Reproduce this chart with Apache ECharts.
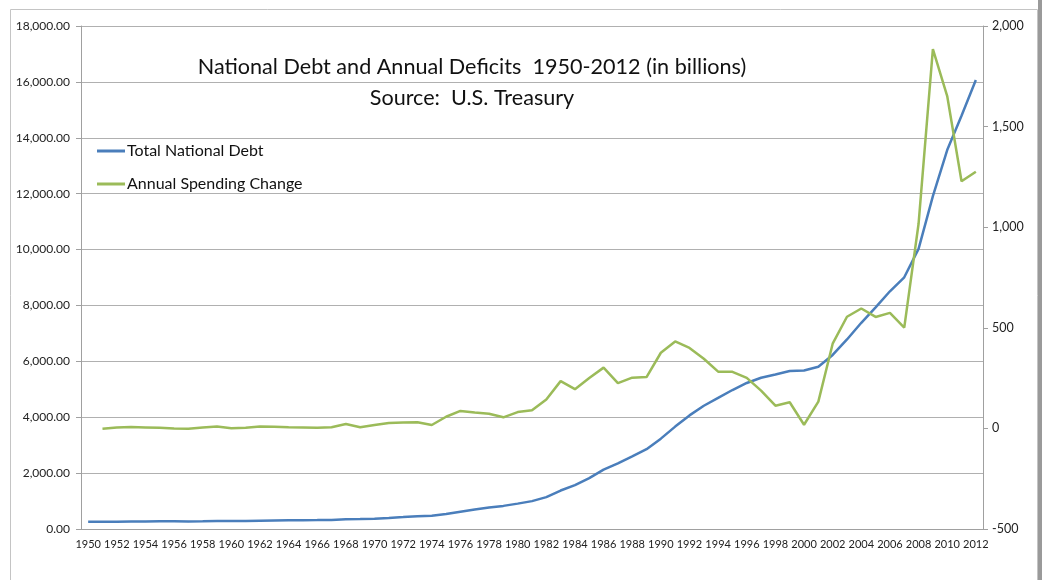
<!DOCTYPE html>
<html>
<head>
<meta charset="utf-8">
<script src="https://cdn.jsdelivr.net/npm/echarts@6/dist/echarts.min.js"></script>
<style>
  html, body { margin: 0; padding: 0; background: #fff; }
  #main { width: 1042px; height: 580px; }
</style>
</head>
<body>
<div id="main"></div>
<script>
// years 1950-2012
const years = [];
for (let y = 1950; y <= 2012; y++) years.push(String(y));

// total national debt, billions (left axis)
const debt = [
  257, 255, 259, 266, 271, 274, 273, 271, 276, 285,
  286, 289, 298, 306, 312, 317, 320, 326, 348, 354,
  371, 398, 427, 458, 475, 533, 620, 699, 772, 827,
  908, 998, 1142, 1377, 1572, 1823, 2125, 2350, 2602, 2857,
  3233, 3665, 4065, 4411, 4693, 4974, 5225, 5413, 5526, 5656,
  5674, 5807, 6228, 6783, 7379, 7933, 8507, 9008, 10025, 11910,
  13562, 14790, 16066
];

// annual spending change, billions (right axis), starts 1951
const change = [
  null, -2, 4, 7, 5, 3, -1, -2, 5, 9,
  1, 3, 9, 8, 6, 5, 3, 6, 22, 6,
  17, 27, 29, 31, 17, 58, 87, 79, 73, 55,
  81, 90, 144, 235, 195, 251, 302, 225, 252, 255,
  376, 432, 400, 346, 282, 281, 251, 188, 113, 130,
  18, 133, 421, 555, 596, 554, 574, 501, 1017, 1885,
  1652, 1228, 1276
];

const font = 'Lato';
const chart = echarts.init(document.getElementById('main'));

chart.setOption({
  animation: false,
  textStyle: { fontFamily: font },
  title: {
    text: 'National Debt and Annual Deficits  1950-2012 (in billions)\nSource:  U.S. Treasury',
    left: 467,
    top: 47,
    textAlign: 'center',
    textStyle: { fontSize: 21.6, fontWeight: 'normal', color: '#111', lineHeight: 31, fontFamily: font }
  },
  legend: {
    orient: 'vertical',
    left: 97,
    top: 143,
    padding: 0,
    icon: 'rect',
    itemWidth: 28,
    itemHeight: 3,
    itemGap: 17,
    textStyle: { fontSize: 16, color: '#111', padding: [0, 0, 0, -3] },
    data: ['Total National Debt', 'Annual Spending Change']
  },
  grid: { left: 81, right: 59, top: 26, bottom: 51 },
  xAxis: {
    type: 'category',
    data: years,
    boundaryGap: true,
    axisLine: { lineStyle: { color: '#a0a0a0' } },
    axisTick: { interval: 0, length: 5, lineStyle: { color: '#a0a0a0' } },
    axisLabel: { interval: 1, fontSize: 11, color: '#222', margin: 10 }
  },
  yAxis: [
    {
      type: 'value',
      min: 0, max: 18000, interval: 2000,
      axisLine: { show: true, lineStyle: { color: '#a0a0a0' } },
      axisTick: { show: true, length: 5, lineStyle: { color: '#a0a0a0' } },
      splitLine: { lineStyle: { color: '#b0b0b0' } },
      axisLabel: {
        fontSize: 12, color: '#222', margin: 11,
        formatter: v => v.toLocaleString('en-US', { minimumFractionDigits: 2, maximumFractionDigits: 2 })
      }
    },
    {
      type: 'value',
      min: -500, max: 2000, interval: 500,
      axisLine: { show: true, lineStyle: { color: '#a0a0a0' } },
      axisTick: { show: true, length: 5, lineStyle: { color: '#a0a0a0' } },
      splitLine: { show: false },
      axisLabel: {
        fontSize: 12.5, color: '#222', margin: 9,
        formatter: v => v.toLocaleString('en-US')
      }
    }
  ],
  series: [
    {
      name: 'Total National Debt',
      type: 'line',
      yAxisIndex: 0,
      data: debt,
      symbol: 'none',
      lineStyle: { width: 2.5, color: '#4a7ebb' },
      itemStyle: { color: '#4a7ebb' }
    },
    {
      name: 'Annual Spending Change',
      type: 'line',
      yAxisIndex: 1,
      data: change,
      symbol: 'none',
      lineStyle: { width: 2.5, color: '#9bbb59' },
      itemStyle: { color: '#9bbb59' }
    }
  ],
  graphic: [
    { type: 'rect', silent: true, shape: { x: 10.5, y: 9.5, width: 1027, height: 600 },
      style: { fill: 'none', stroke: '#c4c4c4', lineWidth: 1 } },
    { type: 'rect', silent: true, shape: { x: 1038, y: 0, width: 4, height: 580 },
      style: { fill: '#9a9a9a' } }
  ]
});
</script>
</body>
</html>
